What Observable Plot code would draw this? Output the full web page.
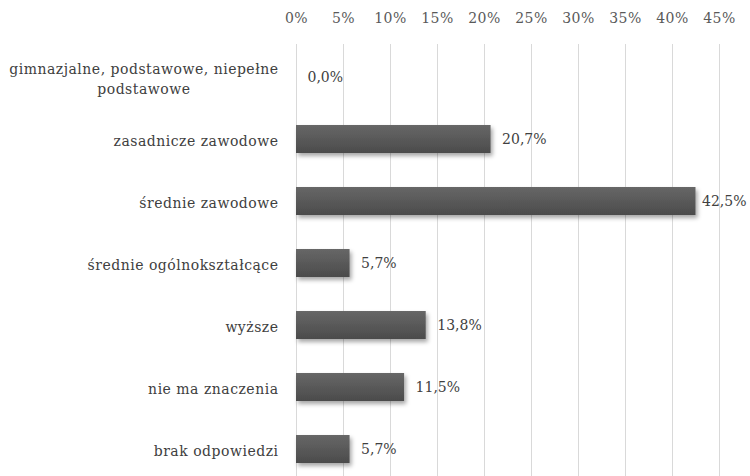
<!DOCTYPE html>
<html>
<head>
<meta charset="utf-8">
<script src="https://cdn.jsdelivr.net/npm/d3@7"></script>
<script src="https://cdn.jsdelivr.net/npm/@observablehq/plot@0.6"></script>
<style>
  html, body { margin: 0; padding: 0; background: #fff; overflow: hidden; }
</style>
</head>
<body>
<div id="chart"></div>
<script>
const categories = [
  "gimnazjalne, podstawowe, niepełne\npodstawowe",
  "zasadnicze zawodowe",
  "średnie zawodowe",
  "średnie ogólnokształcące",
  "wyższe",
  "nie ma znaczenia",
  "brak odpowiedzi"
];
const values = [0.0, 20.7, 42.5, 5.7, 13.8, 11.5, 5.7];
const xTicks = [0, 5, 10, 15, 20, 25, 30, 35, 40, 45];

const data = categories.map((c, i) => ({category: c, value: values[i]}));
const fmt = v => v.toFixed(1).replace(".", ",") + "%";
const font = "DejaVu Serif";

const chart = Plot.plot({
  width: 750,
  height: 476,
  marginLeft: 296,
  marginRight: 31,
  marginTop: 44,
  marginBottom: 0,
  style: {fontFamily: font, fontSize: "13px", color: "#404040", background: "#fff", overflow: "visible"},
  x: {domain: [0, 45], axis: null, label: null},
  y: {domain: categories, range: [44, 482], paddingInner: 0.553, paddingOuter: 0.2765, axis: null, label: null},
  marks: [
    Plot.gridX(xTicks, {stroke: "#d9d9d9", strokeOpacity: 1, strokeWidth: 1}),
    Plot.axisX(xTicks, {anchor: "top", label: null, tickSize: 0, tickPadding: 22, tickFormat: d => d + "%", fill: "#595959", fontSize: 14, className: "xticks"}),
    Plot.barX(data, {x: "value", y: "category", fill: "url(#barGrad)", stroke: d => d.value === 0 ? "#e6e6e6" : "none", strokeWidth: 1, className: "bars"}),
    Plot.text(data.filter(d => d.value <= 40), {x: "value", y: "category", text: d => fmt(d.value), textAnchor: "start", dx: 11, fontSize: 14, fill: "#404040"}),
    Plot.text(data.filter(d => d.value > 40), {x: "value", y: "category", text: d => fmt(d.value), textAnchor: "start", dx: 6, fontSize: 14, fill: "#404040"}),
    Plot.text(data, {y: "category", text: "category", frameAnchor: "left", textAnchor: "end", dx: -18, fontSize: 14, fill: "#404040", lineHeight: 1.4, className: "catlabel"})
  ]
});

const svg = d3.select(chart);
const defs = svg.insert("defs", ":first-child");
const grad = defs.append("linearGradient").attr("id", "barGrad").attr("x1", 0).attr("y1", 0).attr("x2", 0).attr("y2", 1);
grad.append("stop").attr("offset", "0%").attr("stop-color", "#676767");
grad.append("stop").attr("offset", "100%").attr("stop-color", "#4b4b4b");
const f = defs.append("filter").attr("id", "barShadow").attr("x", "-10%").attr("y", "-30%").attr("width", "130%").attr("height", "180%");
f.append("feDropShadow").attr("dx", 2).attr("dy", 3).attr("stdDeviation", 2).attr("flood-color", "#000").attr("flood-opacity", 0.35);
svg.selectAll(".bars").attr("filter", "url(#barShadow)");
svg.selectAll(".catlabel text").style("letter-spacing", "0.5px");
svg.selectAll(".xticks text").style("letter-spacing", "0.5px");

document.getElementById("chart").appendChild(chart);

// center multi-line category labels on their own width, right edge kept
svg.selectAll(".catlabel text").each(function() {
  if (this.querySelectorAll("tspan").length > 1) {
    const w = this.getBBox().width;
    this.setAttribute("text-anchor", "middle");
    const t = this.getAttribute("transform") || "";
    this.setAttribute("transform", t + ` translate(${-w / 2},0)`);
  }
});
</script>
</body>
</html>
